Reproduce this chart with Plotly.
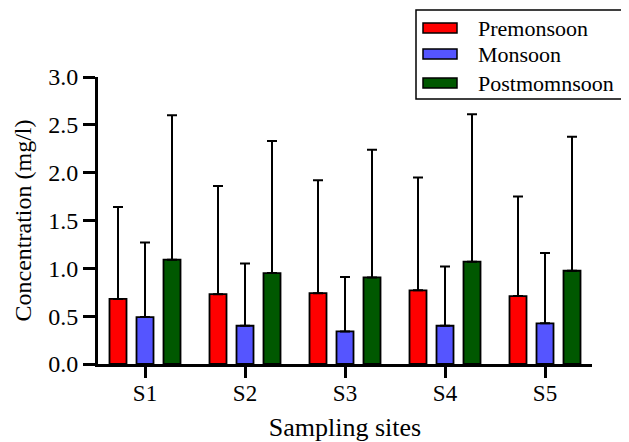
import plotly.graph_objects as go

sites = ["S1", "S2", "S3", "S4", "S5"]
premonsoon = [0.68, 0.73, 0.74, 0.77, 0.71]
premonsoon_top = [1.64, 1.86, 1.92, 1.95, 1.75]
monsoon = [0.49, 0.40, 0.34, 0.40, 0.425]
monsoon_top = [1.27, 1.05, 0.91, 1.02, 1.16]
postmonsoon = [1.09, 0.95, 0.905, 1.07, 0.975]
postmonsoon_top = [2.60, 2.33, 2.24, 2.61, 2.375]
y_ticks = [0.0, 0.5, 1.0, 1.5, 2.0, 2.5, 3.0]

series = [
    ("Premonsoon", premonsoon, premonsoon_top, "#FF0000"),
    ("Monsoon", monsoon, monsoon_top, "#5555FF"),
    ("Postmomnsoon", postmonsoon, postmonsoon_top, "#005800"),
]

FONT = "Liberation Serif"
W, H = 621, 434
ML, MR, MT, MB = 90, 37, 69, 78
PW, PH = W - ML - MR, H - MT - MB


def px(xp):
    return (xp - ML) / PW


def py(yp):
    return (H - MB - yp) / PH


fig = go.Figure()
for name, vals, tops, color in series:
    fig.add_trace(go.Bar(
        x=sites, y=vals, name=name, showlegend=False,
        marker=dict(color=color, line=dict(color="black", width=1.8)),
        error_y=dict(type="data", symmetric=False,
                     array=[t - v for t, v in zip(tops, vals)],
                     arrayminus=[0] * len(vals),
                     color="black", thickness=2, width=5),
    ))

# legend drawn as a boxed key
shapes = [dict(type="rect", xref="paper", yref="paper",
               x0=px(408), x1=px(640), y0=py(91), y1=py(2),
               line=dict(color="black", width=1.5), fillcolor="white", layer="above")]
annotations = []
sym_y = [20, 46, 75]
for (name, _, _, color), yc in zip(series, sym_y):
    shapes.append(dict(type="rect", xref="paper", yref="paper",
                       x0=px(415), x1=px(449), y0=py(yc + 5), y1=py(yc - 5),
                       line=dict(color="black", width=1.5), fillcolor=color, layer="above"))
    annotations.append(dict(xref="paper", yref="paper", x=px(468), y=py(yc),
                            xanchor="left", yanchor="middle", showarrow=False,
                            text=name, font=dict(size=22, family=FONT, color="black")))

fig.update_layout(
    width=W, height=H,
    margin=dict(l=ML, r=MR, t=MT, b=MB, autoexpand=False),
    paper_bgcolor="white", plot_bgcolor="white",
    barmode="group", bargap=0.19, bargroupgap=0.37,
    font=dict(family=FONT, color="black", size=22),
    showlegend=False,
    shapes=shapes, annotations=annotations,
)
fig.update_xaxes(
    range=[-0.47, 4.47], showline=True, linecolor="black", linewidth=3,
    ticks="outside", ticklen=11, tickwidth=3, tickcolor="black",
    tickfont=dict(size=23, family=FONT), showgrid=False, zeroline=False,
    ticklabelstandoff=-5,
    title=dict(text="Sampling sites", font=dict(size=26, family=FONT), standoff=17),
)
fig.update_yaxes(
    range=[0, 3.0], tickvals=y_ticks, ticktext=[f"{v:.1f}" for v in y_ticks],
    showline=True, linecolor="black", linewidth=3,
    ticks="outside", ticklen=12, tickwidth=3, tickcolor="black",
    tickfont=dict(size=24, family=FONT), showgrid=False, zeroline=False,
    title=dict(text="Concentration (mg/l)", font=dict(size=24, family=FONT), standoff=10),
)

fig.write_html("out.html")
